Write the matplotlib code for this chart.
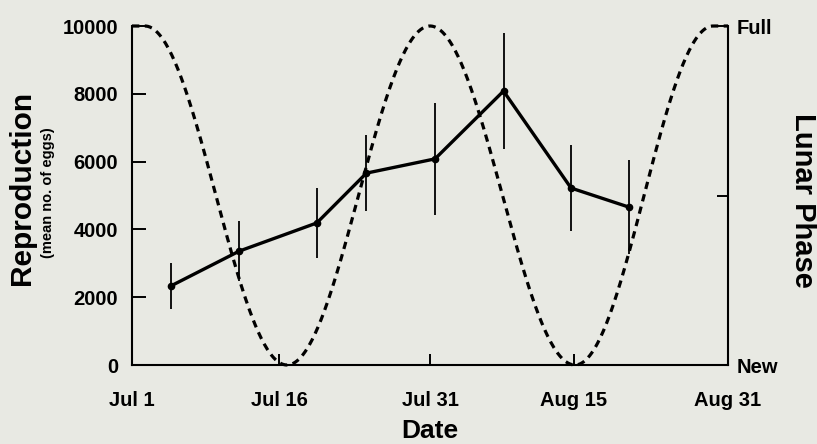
import numpy as np
import matplotlib
matplotlib.use("Agg")
import matplotlib.pyplot as plt

# -----------------------------
# DATA (days counted from Jul 1)
# -----------------------------
sample_day = [3.9, 10.8, 18.6, 23.6, 30.5, 37.4, 44.2, 50.0]
mean_eggs = [2330, 3360, 4190, 5660, 6080, 8080, 5220, 4660]
eggs_err = [670, 880, 1030, 1120, 1650, 1700, 1280, 1400]

# full / new moon dates and the phase angle at each (0 = full, pi = new)
moon_day = [1.3, 15.6, 30.0, 44.6, 58.5]
moon_angle = [0, np.pi, 2 * np.pi, 3 * np.pi, 4 * np.pi]

date_ticks = [0, 14.8, 30, 44.5, 60]
date_labels = ["Jul 1", "Jul 16", "Jul 31", "Aug 15", "Aug 31"]

# -----------------------------
# STYLE
# -----------------------------
plt.rcParams["font.family"] = ["Liberation Sans", "DejaVu Sans"]
plt.rcParams["font.weight"] = "bold"
bg = "#e8e9e3"
W, H = 817, 444

fig = plt.figure(figsize=(W / 100, H / 100), dpi=100, facecolor=bg)
ax = fig.add_axes([132 / W, 1 - 365 / H, (728 - 132) / W, (365 - 26) / H])
moon = ax.twinx()

# lunar phase curve on the right axis
t = np.linspace(0, 60, 600)
phase = (1 + np.cos(np.interp(t, moon_day, moon_angle))) / 2
moon.plot(t, phase, color="black", lw=2.3, linestyle=(0, (2.3, 1.7)),
          dash_capstyle="butt", clip_on=False)
moon.set_ylim(0, 1)
moon.set_yticks([0, 0.5, 1])
moon.set_yticklabels(["New", "", "Full"])
moon.tick_params(axis="y", direction="in", length=8, width=1.4,
                 labelsize=14.5, pad=6)
for s in ["top", "left", "bottom"]:
    moon.spines[s].set_visible(False)
moon.spines["right"].set_linewidth(1.5)

# reproduction on the left axis, drawn above the moon curve
ax.set_zorder(moon.get_zorder() + 1)
ax.patch.set_visible(False)
ax.errorbar(sample_day, mean_eggs, yerr=eggs_err, color="black", lw=2.4,
            elinewidth=1.3, capsize=0, marker="o", markersize=4.5,
            clip_on=False)
ax.set_xlim(0, 60)
ax.set_ylim(0, 10000)
ax.set_yticks(range(0, 10001, 2000))
ax.set_xticks(date_ticks)
ax.set_xticklabels(date_labels)
ax.tick_params(axis="y", direction="in", length=10, width=1.4,
               labelsize=14.5, pad=10)
ax.tick_params(axis="x", direction="in", length=8, width=1.4,
               labelsize=14.5, pad=19)
ax.spines["top"].set_visible(False)
ax.spines["right"].set_visible(False)
ax.spines["left"].set_linewidth(1.5)
ax.spines["bottom"].set_linewidth(1.5)

# axis titles
fig.text(22 / W, 1 - 188 / H, "Reproduction", rotation=90, fontsize=21.5,
         ha="center", va="center")
fig.text(48 / W, 1 - 193 / H, "(mean no. of eggs)", rotation=90, fontsize=10.5,
         ha="center", va="center")
fig.text(803 / W, 1 - 200 / H, "Lunar Phase", rotation=270, fontsize=21,
         ha="center", va="center")
fig.text(430 / W, 1 - 431 / H, "Date", fontsize=19, ha="center", va="center")

fig.savefig("out.png", dpi=100, facecolor=bg)
